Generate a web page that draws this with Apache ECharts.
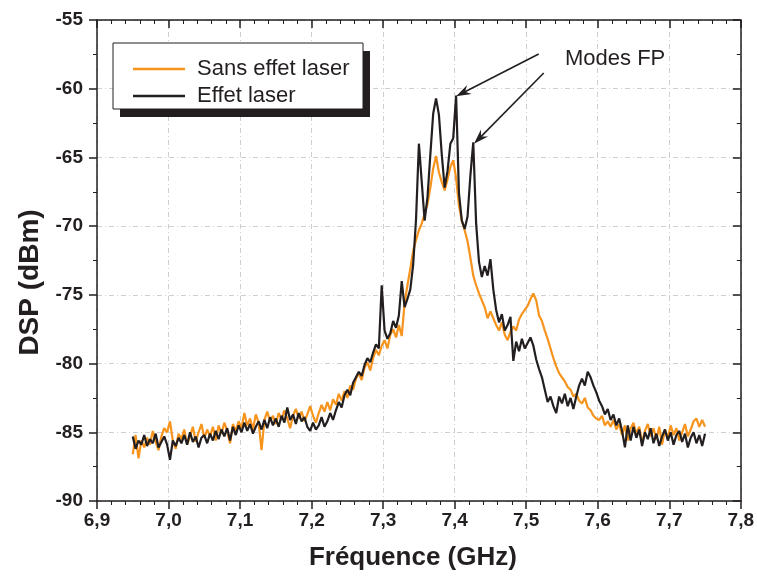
<!DOCTYPE html>
<html><head><meta charset="utf-8">
<script src="https://cdn.jsdelivr.net/npm/echarts@6/dist/echarts.min.js"></script>
<style>html,body{margin:0;padding:0;background:#fff}#c{width:757px;height:577px}</style>
</head><body><div id="c"></div><script>
// Frequencies (GHz)
const freq = [
6.950,6.954,6.958,6.962,6.966,6.970,6.974,6.978,6.982,6.986,
6.990,6.994,6.998,7.002,7.006,7.010,7.014,7.018,7.022,7.026,
7.030,7.034,7.038,7.042,7.046,7.050,7.054,7.058,7.062,7.066,
7.070,7.074,7.078,7.082,7.086,7.090,7.094,7.098,7.102,7.106,
7.110,7.114,7.118,7.122,7.126,7.130,7.134,7.138,7.142,7.146,
7.150,7.154,7.158,7.162,7.166,7.170,7.174,7.178,7.182,7.186,
7.190,7.194,7.198,7.202,7.206,7.210,7.214,7.218,7.222,7.226,
7.230,7.234,7.238,7.242,7.246,7.250,7.254,7.258,7.262,7.266,
7.270,7.274,7.278,7.282,7.286,7.290,7.294,7.298,7.302,7.306,
7.310,7.314,7.318,7.322,7.326,7.330,7.334,7.338,7.342,7.346,
7.350,7.354,7.358,7.362,7.366,7.370,7.374,7.378,7.382,7.386,
7.390,7.394,7.398,7.402,7.406,7.410,7.414,7.418,7.422,7.426,
7.430,7.434,7.438,7.442,7.446,7.450,7.454,7.458,7.462,7.466,
7.470,7.474,7.478,7.482,7.486,7.490,7.494,7.498,7.502,7.506,
7.510,7.514,7.518,7.522,7.526,7.530,7.534,7.538,7.542,7.546,
7.550,7.554,7.558,7.562,7.566,7.570,7.574,7.578,7.582,7.586,
7.590,7.594,7.598,7.602,7.606,7.610,7.614,7.618,7.622,7.626,
7.630,7.634,7.638,7.642,7.646,7.650,7.654,7.658,7.662,7.666,
7.670,7.674,7.678,7.682,7.686,7.690,7.694,7.698,7.702,7.706,
7.710,7.714,7.718,7.722,7.726,7.730,7.734,7.738,7.742,7.746,
7.750];

// DSP (dBm) without laser effect
const sansEffet = [
-86.6,-85.2,-86.9,-85.6,-86.1,-85.4,-85.9,-84.9,-85.7,-86.3,
-85.3,-84.7,-85.0,-84.2,-85.6,-86.2,-85.1,-85.5,-84.8,-85.9,
-85.3,-84.6,-85.7,-85.0,-84.4,-85.4,-84.8,-85.3,-84.6,-85.6,
-84.5,-85.1,-84.3,-84.9,-85.8,-84.4,-84.9,-84.2,-84.7,-83.6,
-84.5,-84.0,-84.8,-83.7,-84.3,-86.3,-84.1,-83.5,-84.2,-83.8,
-84.4,-83.6,-84.1,-83.4,-84.0,-84.7,-83.8,-83.3,-84.0,-83.5,
-84.2,-83.7,-83.1,-83.8,-84.3,-83.6,-83.0,-83.5,-82.8,-83.4,
-82.6,-83.0,-82.2,-82.7,-82.0,-82.5,-81.6,-81.9,-81.1,-80.7,
-81.2,-80.3,-79.9,-80.5,-79.6,-79.0,-79.4,-78.7,-78.3,-78.9,
-77.9,-77.5,-78.1,-77.2,-78.0,-75.6,-74.3,-73.1,-71.8,-71.0,
-70.3,-69.8,-69.1,-68.4,-67.2,-65.8,-64.9,-66.1,-66.8,-67.4,
-66.6,-65.7,-65.2,-66.5,-68.5,-69.6,-70.3,-71.1,-72.3,-73.6,
-74.3,-74.9,-75.4,-75.9,-76.7,-76.2,-76.7,-77.2,-77.6,-77.0,
-77.9,-78.3,-77.7,-77.3,-77.6,-76.8,-76.4,-76.1,-75.8,-75.3,
-74.9,-75.4,-76.5,-76.9,-77.6,-78.2,-78.9,-79.6,-80.2,-80.7,
-81.0,-81.3,-81.7,-81.9,-82.4,-82.2,-82.7,-82.9,-82.5,-83.2,
-83.4,-83.8,-84.0,-84.1,-83.8,-84.5,-84.2,-84.6,-84.1,-84.8,
-84.4,-85.2,-84.5,-85.6,-84.7,-84.3,-85.1,-84.6,-85.8,-84.9,
-84.4,-85.3,-84.7,-85.5,-84.6,-85.9,-84.8,-85.4,-84.5,-85.2,
-84.7,-85.6,-85.0,-84.4,-85.3,-84.8,-84.2,-84.0,-84.6,-84.1,
-84.6];

// DSP (dBm) with laser effect
const effetLaser = [
-85.3,-86.2,-85.6,-85.9,-85.2,-86.0,-85.5,-85.8,-85.1,-86.1,
-85.7,-85.3,-85.9,-87.0,-85.6,-86.0,-85.4,-85.8,-85.2,-85.9,
-85.0,-85.7,-85.3,-86.1,-85.4,-85.2,-85.8,-85.1,-85.6,-84.9,
-85.5,-84.8,-85.3,-84.7,-85.6,-84.6,-85.2,-84.5,-85.0,-84.3,
-84.9,-84.4,-85.1,-84.6,-84.2,-84.8,-84.1,-84.7,-83.9,-84.5,
-84.0,-84.6,-83.8,-84.3,-83.2,-84.1,-83.7,-84.4,-83.6,-84.2,
-83.9,-84.6,-84.9,-84.3,-84.8,-84.5,-83.9,-84.6,-84.2,-83.6,
-84.1,-83.4,-82.8,-83.2,-82.3,-81.9,-82.3,-81.4,-81.0,-80.6,
-80.9,-80.1,-79.6,-79.9,-79.2,-78.6,-78.9,-74.3,-77.6,-78.2,
-77.8,-76.9,-77.4,-76.5,-74.0,-75.9,-75.3,-74.6,-72.8,-69.5,
-64.0,-66.8,-69.6,-67.9,-64.8,-61.8,-60.7,-61.9,-64.8,-67.2,
-66.0,-64.0,-63.6,-60.5,-67.6,-69.6,-70.2,-69.3,-66.3,-63.9,
-69.8,-72.6,-73.7,-72.9,-73.6,-72.4,-74.6,-76.1,-77.0,-76.4,
-77.6,-77.2,-76.6,-79.8,-78.4,-79.1,-78.2,-78.9,-78.5,-78.1,
-78.7,-79.7,-80.4,-81.0,-81.9,-82.8,-82.4,-83.1,-83.6,-82.4,
-82.9,-82.2,-83.1,-82.5,-83.3,-82.4,-81.6,-81.1,-81.6,-80.6,
-81.0,-81.6,-82.1,-82.7,-83.1,-83.7,-83.3,-84.1,-83.7,-84.5,
-84.0,-84.9,-86.1,-84.5,-85.6,-84.6,-85.4,-84.8,-86.0,-85.0,
-85.5,-84.7,-85.8,-85.1,-86.0,-85.3,-84.8,-85.6,-85.0,-85.9,
-85.2,-84.9,-85.7,-85.1,-86.1,-85.4,-85.0,-85.8,-85.2,-86.0,
-85.1];

const seriesNames = ['Sans effet laser', 'Effet laser'];
const annotationText = 'Modes FP';
// arrow annotations [freq, dBm]
const arrowStarts = [[7.5175, -57.47], [7.5245, -58.86]];
const arrowEnds   = [[7.402, -60.55], [7.427, -64.0]];

const INK = '#231f20';
const ORANGE = '#f7941d';
const FONT = "'Liberation Sans', Arial, sans-serif";

const chart = echarts.init(document.getElementById('c'), null, {renderer: 'canvas'});
const gridLine = {show: true, lineStyle: {color: '#cfcfcf', width: 1, type: [5, 3, 1, 3]}};
const axLine = {show: true, onZero: false, lineStyle: {color: INK, width: 1.5}};

chart.setOption({
  animation: false,
  backgroundColor: '#fff',
  grid: {left: 97, right: 13, top: 20, bottom: 76, containLabel: false},
  legend: {
    data: seriesNames,
    orient: 'vertical',
    left: 113, top: 43, z: 20,
    icon: 'rect', itemWidth: 52, itemHeight: 2.5, itemGap: 5,
    padding: [15, 8, 6, 20],
    textStyle: {fontFamily: FONT, fontSize: 22, color: INK, padding: [0, 0, 0, 7]}
  },
  xAxis: [{
    type: 'value', position: 'bottom', min: 6.9, max: 7.8, interval: 0.1,
    axisLine: axLine,
    axisTick: {show: true, inside: false, length: 8, lineStyle: {color: INK, width: 1.5}},
    minorTick: {show: true, splitNumber: 5, length: 4, lineStyle: {color: INK, width: 1}},
    splitLine: gridLine,
    axisLabel: {fontFamily: FONT, fontWeight: 'bold', fontSize: 19, color: INK, margin: 10,
      formatter: v => v.toFixed(1).replace('.', ',')},
    name: 'Fréquence (GHz)', nameLocation: 'middle', nameGap: 44,
    nameTextStyle: {fontFamily: FONT, fontWeight: 'bold', fontSize: 26, color: INK, padding: [0, 12, 0, 0]}
  }, {
    type: 'value', position: 'top', min: 6.9, max: 7.8, interval: 0.1,
    axisLine: axLine,
    axisTick: {show: true, inside: true, length: 8, lineStyle: {color: INK, width: 1.5}},
    minorTick: {show: true, splitNumber: 5, length: 4, lineStyle: {color: INK, width: 1}},
    splitLine: {show: false}, axisLabel: {show: false}
  }],
  yAxis: [{
    type: 'value', position: 'left', min: -90, max: -55, interval: 5,
    axisLine: axLine,
    axisTick: {show: true, inside: false, length: 8, lineStyle: {color: INK, width: 1.5}},
    minorTick: {show: true, splitNumber: 2, length: 4, lineStyle: {color: INK, width: 1}},
    splitLine: gridLine,
    axisLabel: {fontFamily: FONT, fontWeight: 'bold', fontSize: 19, color: INK, margin: 14},
    name: 'DSP (dBm)', nameLocation: 'middle', nameGap: 52, nameRotate: 90,
    nameTextStyle: {fontFamily: FONT, fontWeight: 'bold', fontSize: 28, color: INK, padding: [0, 44, 0, 0]}
  }, {
    type: 'value', position: 'right', min: -90, max: -55, interval: 5,
    axisLine: axLine,
    axisTick: {show: true, inside: true, length: 8, lineStyle: {color: INK, width: 1.5}},
    minorTick: {show: true, splitNumber: 2, length: 4, lineStyle: {color: INK, width: 1}},
    splitLine: {show: false}, axisLabel: {show: false}
  }],
  series: [{
    name: seriesNames[0], type: 'line', xAxisIndex: 0, yAxisIndex: 0,
    data: freq.map((f, i) => [f, sansEffet[i]]),
    symbol: 'none', showSymbol: false, color: ORANGE,
    lineStyle: {color: ORANGE, width: 2.2}
  }, {
    name: seriesNames[1], type: 'line', xAxisIndex: 0, yAxisIndex: 0,
    data: freq.map((f, i) => [f, effetLaser[i]]),
    symbol: 'none', showSymbol: false, color: INK,
    lineStyle: {color: INK, width: 2.2}
  }]
});

// Legend frame with offset shadow, and the annotation arrows (placed through the chart's own coordinate conversion)
const graphics = [
  {type: 'rect', z: 5, shape: {x: 120, y: 51, width: 250, height: 66}, style: {fill: INK}},
  {type: 'rect', z: 6, shape: {x: 113, y: 43, width: 250, height: 66}, style: {fill: '#fff', stroke: INK, lineWidth: 1}},
  {type: 'text', z: 6, left: 565, top: 48,
   style: {text: annotationText, font: "22px 'Liberation Sans', Arial, sans-serif", fill: INK}}
];
arrowStarts.forEach((s, k) => {
  const p0 = chart.convertToPixel({gridIndex: 0}, s);
  const p1 = chart.convertToPixel({gridIndex: 0}, arrowEnds[k]);
  const dx = p1[0] - p0[0], dy = p1[1] - p0[1];
  const L = Math.hypot(dx, dy), ux = dx / L, uy = dy / L, nx = -uy, ny = ux;
  const hl = 15, hw = 5, notch = 10;
  graphics.push({type: 'line', z: 7, shape: {x1: p0[0], y1: p0[1], x2: p1[0] - ux * notch, y2: p1[1] - uy * notch},
    style: {stroke: INK, lineWidth: 1.6}});
  graphics.push({type: 'polygon', z: 7, shape: {points: [
    [p1[0], p1[1]],
    [p1[0] - ux * hl + nx * hw, p1[1] - uy * hl + ny * hw],
    [p1[0] - ux * notch, p1[1] - uy * notch],
    [p1[0] - ux * hl - nx * hw, p1[1] - uy * hl - ny * hw]
  ]}, style: {fill: INK}});
});
chart.setOption({graphic: graphics});
</script></body></html>
